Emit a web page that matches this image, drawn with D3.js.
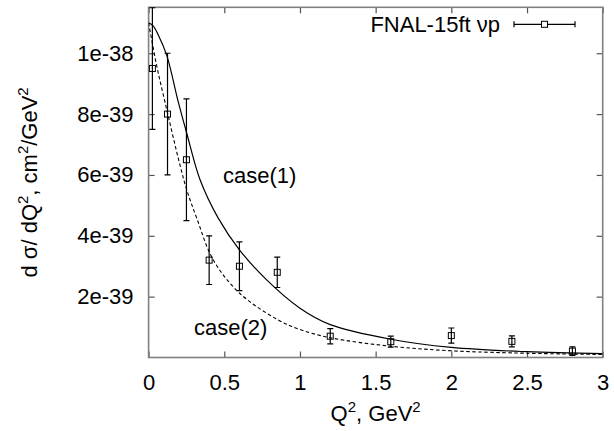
<!DOCTYPE html>
<html>
<head>
<meta charset="utf-8">
<script src="https://cdn.jsdelivr.net/npm/d3@7"></script>
<style>
  body { margin: 0; background: #fff; }
  text { font-family: "Liberation Sans", Arial, Helvetica, sans-serif; }
</style>
</head>
<body>
<div id="chart"></div>
<script>
// measured points, FNAL-15ft nu p (Q^2 in GeV^2, dsigma/dQ^2 in cm^2/GeV^2)
var dataQ2 = [0.025, 0.125, 0.25, 0.4, 0.6, 0.85, 1.2, 1.6, 2.0, 2.4, 2.8];
var dataXs = [9.5e-39, 8.0e-39, 6.5e-39, 3.2e-39, 3.0e-39, 2.8e-39, 0.7e-39, 0.52e-39, 0.72e-39, 0.53e-39, 0.21e-39];
var dataErr = [2.0e-39, 2.0e-39, 2.0e-39, 0.8e-39, 0.8e-39, 0.5e-39, 0.25e-39, 0.18e-39, 0.25e-39, 0.18e-39, 0.14e-39];

// case(1) curve, solid
var case1Q2 = [0, 0.03, 0.064, 0.12, 0.196, 0.252, 0.34, 0.46, 0.6, 0.78, 1.0, 1.2, 1.6, 2.0, 2.5, 3.0];
var case1Xs = [11.0e-39, 10.9e-39, 10.6e-39, 9.93e-39, 8.4e-39, 7.37e-39, 5.84e-39, 4.58e-39, 3.54e-39, 2.55e-39, 1.62e-39, 1.08e-39, 0.6e-39, 0.33e-39, 0.19e-39, 0.13e-39];

// case(2) curve, dashed
var case2Q2 = [0, 0.053, 0.108, 0.207, 0.252, 0.318, 0.427, 0.6, 0.85, 1.0, 1.2, 1.6, 2.0, 2.5, 3.0];
var case2Xs = [11.0e-39, 9.6e-39, 8.4e-39, 6.33e-39, 5.51e-39, 4.58e-39, 3.21e-39, 2.12e-39, 1.25e-39, 0.92e-39, 0.65e-39, 0.37e-39, 0.22e-39, 0.14e-39, 0.1e-39];

var xTicks = [0, 0.5, 1, 1.5, 2, 2.5, 3];
var xTickLabels = ["0", "0.5", "1", "1.5", "2", "2.5", "3"];
var yTicks = [2e-39, 4e-39, 6e-39, 8e-39, 1e-38];
var yTickLabels = ["2e-39", "4e-39", "6e-39", "8e-39", "1e-38"];

var W = 614, H = 431;
var margin = {top: 7.3, right: 11.3, bottom: 73.5, left: 148.6};
var width = W - margin.left - margin.right;
var height = H - margin.top - margin.bottom;

var svg = d3.select("#chart")
  .append("svg")
    .attr("width", W)
    .attr("height", H)
  .append("g")
    .attr("transform", "translate(" + margin.left + "," + margin.top + ")");

var x = d3.scaleLinear().domain([0, 3]).range([0, width]);
var y = d3.scaleLinear().domain([0, 1.151e-38]).range([height, 0]);

svg.append("clipPath").attr("id", "clip")
  .append("rect").attr("width", width).attr("height", height);

// axes: ticks point inward on all four sides
function styleAxis(g) {
  g.select(".domain").remove();
  g.selectAll(".tick line").attr("stroke", "#555").attr("stroke-width", 1.2);
  g.selectAll(".tick text").attr("font-size", "22px").attr("fill", "#000");
}

svg.append("g")
    .attr("transform", "translate(0," + height + ")")
    .call(d3.axisBottom(x).tickValues(xTicks)
      .tickFormat(function(d, i) { return xTickLabels[i]; })
      .tickSize(-6).tickPadding(17))
    .call(styleAxis);
svg.append("g")
    .call(d3.axisTop(x).tickValues(xTicks).tickFormat("").tickSize(-6))
    .call(styleAxis);
svg.append("g")
    .call(d3.axisLeft(y).tickValues(yTicks)
      .tickFormat(function(d, i) { return yTickLabels[i]; })
      .tickSize(-6).tickPadding(15))
    .call(styleAxis);
svg.append("g")
    .attr("transform", "translate(" + width + ",0)")
    .call(d3.axisRight(y).tickValues(yTicks).tickFormat("").tickSize(-6))
    .call(styleAxis);

// frame
svg.append("rect")
    .attr("width", width)
    .attr("height", height)
    .attr("fill", "none")
    .attr("stroke", "#808080")
    .attr("stroke-width", 1.6);

// curves
var line = d3.line()
    .x(function(d) { return x(d[0]); })
    .y(function(d) { return y(d[1]); })
    .curve(d3.curveCatmullRom.alpha(0.5));

svg.append("path")
    .datum(d3.zip(case1Q2, case1Xs))
    .attr("clip-path", "url(#clip)")
    .attr("d", line)
    .attr("fill", "none")
    .attr("stroke", "#000")
    .attr("stroke-width", 1.2);

svg.append("path")
    .datum(d3.zip(case2Q2, case2Xs))
    .attr("clip-path", "url(#clip)")
    .attr("d", line)
    .attr("fill", "none")
    .attr("stroke", "#000")
    .attr("stroke-width", 1.1)
    .attr("stroke-dasharray", "3.5,2.5");

// data points with error bars
var pts = svg.append("g").attr("clip-path", "url(#clip)")
  .selectAll("g.pt")
  .data(d3.range(dataQ2.length))
  .enter().append("g").attr("class", "pt");

var cap = 3, box = 3;
pts.append("line")
    .attr("x1", function(i) { return x(dataQ2[i]); })
    .attr("x2", function(i) { return x(dataQ2[i]); })
    .attr("y1", function(i) { return y(dataXs[i] - dataErr[i]); })
    .attr("y2", function(i) { return y(dataXs[i] + dataErr[i]); })
    .attr("stroke", "#000").attr("stroke-width", 1.2);
pts.append("line")
    .attr("x1", function(i) { return x(dataQ2[i]) - cap; })
    .attr("x2", function(i) { return x(dataQ2[i]) + cap; })
    .attr("y1", function(i) { return y(dataXs[i] - dataErr[i]); })
    .attr("y2", function(i) { return y(dataXs[i] - dataErr[i]); })
    .attr("stroke", "#000").attr("stroke-width", 1.2);
pts.append("line")
    .attr("x1", function(i) { return x(dataQ2[i]) - cap; })
    .attr("x2", function(i) { return x(dataQ2[i]) + cap; })
    .attr("y1", function(i) { return y(dataXs[i] + dataErr[i]); })
    .attr("y2", function(i) { return y(dataXs[i] + dataErr[i]); })
    .attr("stroke", "#000").attr("stroke-width", 1.2);
pts.append("rect")
    .attr("x", function(i) { return x(dataQ2[i]) - box; })
    .attr("y", function(i) { return y(dataXs[i]) - box; })
    .attr("width", box * 2)
    .attr("height", box * 2)
    .attr("fill", "none")
    .attr("stroke", "#000")
    .attr("stroke-width", 1);

// legend
var lg = svg.append("g");
lg.append("text")
    .attr("x", 500 - margin.left)
    .attr("y", 32 - margin.top)
    .attr("text-anchor", "end")
    .attr("font-size", "22px")
    .text("FNAL-15ft \u03bdp");
var ly = 24.3 - margin.top, lx1 = 514 - margin.left, lx2 = 575 - margin.left;
lg.append("line").attr("x1", lx1).attr("x2", lx2).attr("y1", ly).attr("y2", ly)
    .attr("stroke", "#000").attr("stroke-width", 1.2);
[lx1, lx2].forEach(function(v) {
  lg.append("line").attr("x1", v).attr("x2", v).attr("y1", ly - cap).attr("y2", ly + cap)
      .attr("stroke", "#000").attr("stroke-width", 1.2);
});
lg.append("rect")
    .attr("x", (lx1 + lx2) / 2 - box).attr("y", ly - box)
    .attr("width", box * 2).attr("height", box * 2)
    .attr("fill", "#fff").attr("stroke", "#000").attr("stroke-width", 1);

// curve labels
svg.append("text")
    .attr("x", 223 - margin.left).attr("y", 183 - margin.top)
    .attr("font-size", "22px")
    .text("case(1)");
svg.append("text")
    .attr("x", 194 - margin.left).attr("y", 335 - margin.top)
    .attr("font-size", "22px")
    .text("case(2)");

// axis titles
var xl = svg.append("text")
    .attr("x", width / 2)
    .attr("y", 421 - margin.top)
    .attr("text-anchor", "middle")
    .attr("font-size", "22px");
xl.append("tspan").text("Q");
xl.append("tspan").attr("dy", "-9").attr("font-size", "15px").text("2");
xl.append("tspan").attr("dy", "9").text(", GeV");
xl.append("tspan").attr("dy", "-9").attr("font-size", "15px").text("2");

var yl = svg.append("text")
    .attr("transform", "translate(" + (37 - margin.left) + "," + (height / 2) + ") rotate(-90)")
    .attr("text-anchor", "middle")
    .attr("font-size", "22px");
yl.append("tspan").text("d \u03c3/ dQ");
yl.append("tspan").attr("dy", "-9").attr("font-size", "15px").text("2");
yl.append("tspan").attr("dy", "9").text(", cm");
yl.append("tspan").attr("dy", "-9").attr("font-size", "15px").text("2");
yl.append("tspan").attr("dy", "9").text("/GeV");
yl.append("tspan").attr("dy", "-9").attr("font-size", "15px").text("2");
</script>
</body>
</html>
